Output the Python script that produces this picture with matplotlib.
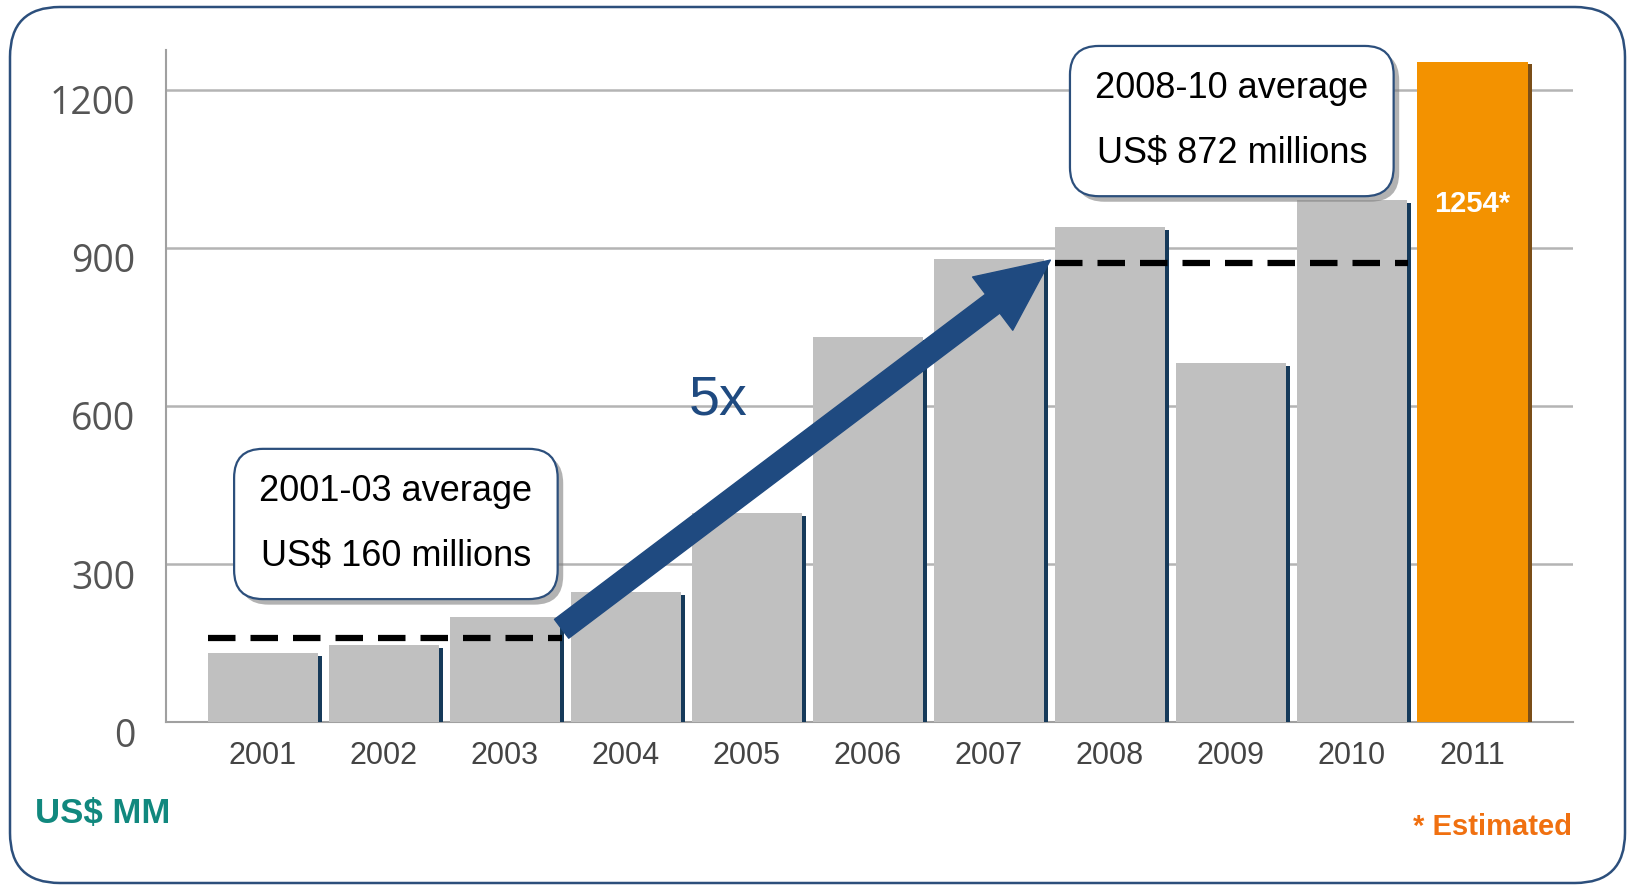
import matplotlib.pyplot as plt
import matplotlib.patches as mpatches
import matplotlib.patheffects as pe
import matplotlib.transforms as mtransforms

years = ['2001', '2002', '2003', '2004', '2005', '2006',
         '2007', '2008', '2009', '2010', '2011']
values = [131, 146, 199, 247, 397, 731, 879, 940, 682, 991, 1254]
estimated = [False] * 10 + [True]
yticks = [0, 300, 600, 900, 1200]

avg_early = 160
avg_late = 872

narrow = ['Liberation Sans Narrow', 'Liberation Sans', 'DejaVu Sans']

fig = plt.figure(figsize=(16.31, 8.86), dpi=100)
ax = fig.add_axes([0.1018, 0.1851, 0.8626, 0.7585])

# outer rounded frame
frame = mpatches.FancyBboxPatch((0.10, 0.03), 16.15, 8.76,
                                boxstyle='round,pad=0,rounding_size=0.5',
                                transform=fig.dpi_scale_trans,
                                fill=False, ec='#2c4f7c', lw=1.8)
fig.add_artist(frame)

x = list(range(len(years)))
grey_vals = [v if not e else 0 for v, e in zip(values, estimated)]
est_vals = [v if e else 0 for v, e in zip(values, estimated)]

bars = ax.bar(x, grey_vals, width=0.91, color='#c0c0c0', zorder=3)
for b in bars:
    b.set_path_effects([pe.SimplePatchShadow(offset=(3, -2), shadow_rgbFace='#163a5a', alpha=1.0),
                        pe.Normal()])
obars = ax.bar(x, est_vals, width=0.91, color='#f39200', zorder=3)
for b in obars:
    b.set_path_effects([pe.SimplePatchShadow(offset=(3, -2), shadow_rgbFace='#7a4e18', alpha=1.0),
                        pe.Normal()])

for i, (v, e) in enumerate(zip(values, estimated)):
    if e:
        ax.text(i, v - 270, '%d*' % v, color='white', fontsize=21, fontweight='bold',
                ha='center', va='center', family=narrow, zorder=5)

# average lines
ax.plot([-0.45, 2.47], [avg_early, avg_early], color='black', lw=4.5,
        linestyle=(0, (4.4, 2.4)), zorder=4, dash_capstyle='butt')
ax.plot([6.55, 9.47], [avg_late, avg_late], color='black', lw=4.5,
        linestyle=(0, (4.4, 2.4)), zorder=4, dash_capstyle='butt')

# growth arrow
ax.annotate('', xy=(6.51, 877), xytext=(2.47, 177),
            arrowprops=dict(arrowstyle='simple,head_length=2.6,head_width=2.4,tail_width=0.85',
                            color='#1f4a80', shrinkA=0, shrinkB=0, mutation_scale=20),
            zorder=6)
ax.text(3.76, 611, '5x', color='#1f4a80', fontsize=40, ha='center', va='center',
        family=narrow, zorder=6)

# callout boxes
box_style = dict(boxstyle='round,pad=0.7,rounding_size=0.8', fc='white', ec='#2c4f7c', lw=1.6)
for bx, by, txt in [(1.10, 376, '2001-03 average\nUS$ %d millions' % avg_early),
                    (8.01, 1141, '2008-10 average\nUS$ %d millions' % avg_late)]:
    t = ax.text(bx, by, txt, fontsize=26, ha='center', va='center', linespacing=2.1,
                family=narrow, color='black', bbox=box_style, zorder=7)
    t.get_bbox_patch().set_path_effects([pe.SimplePatchShadow(offset=(4, -4), shadow_rgbFace='#808080', alpha=0.6),
                                         pe.Normal()])

ax.set_xlim(-0.8, 10.83)
ax.set_ylim(0, 1276)
ax.set_yticks(yticks)
ax.set_xticks(x)
ax.set_xticklabels(years, family=narrow, fontsize=22, color='#444444')
ax.set_yticklabels([str(t) for t in yticks], family=['Open Sans', 'DejaVu Sans'],
                   fontsize=27, color='#555555')
ax.tick_params(axis='both', length=0)
ax.tick_params(axis='y', pad=22)
ax.tick_params(axis='x', pad=14)
offset = mtransforms.ScaledTranslation(0, -10 / 100, fig.dpi_scale_trans)
for lab in ax.get_yticklabels():
    lab.set_transform(lab.get_transform() + offset)

ax.yaxis.grid(True, color='#b4b4b4', lw=1.8, zorder=0)
ax.set_axisbelow(True)
for s in ['top', 'right']:
    ax.spines[s].set_visible(False)
ax.spines['left'].set_color('#a0a0a0')
ax.spines['left'].set_linewidth(1.5)
ax.spines['bottom'].set_color('#a0a0a0')
ax.spines['bottom'].set_linewidth(1.5)

fig.text(35 / 1631, 1 - 813 / 886, 'US$ MM', color='#11887e', fontsize=25,
         ha='left', va='center', family=narrow, fontweight='bold')
fig.text(1572 / 1631, 1 - 827 / 886, '* Estimated', color='#f07010', fontsize=21,
         ha='right', va='center', family=narrow, fontweight='bold')

fig.savefig('out.png', dpi=100)
